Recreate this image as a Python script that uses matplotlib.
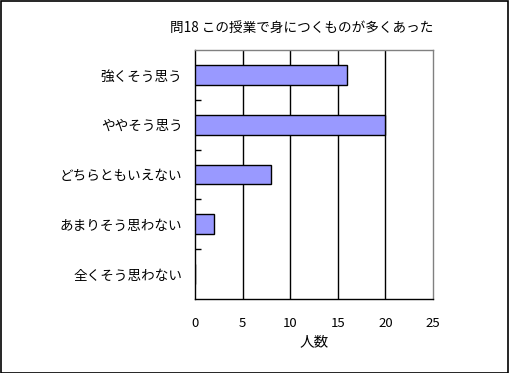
import matplotlib
matplotlib.use("Agg")
import matplotlib.pyplot as plt
from matplotlib.patches import Rectangle

plt.rcParams['font.family'] = ['Noto Sans CJK JP', 'DejaVu Sans']

categories = ["強くそう思う", "ややそう思う", "どちらともいえない", "あまりそう思わない", "全くそう思わない"]
values = [16, 20, 8, 2, 0]
xticks = [0, 5, 10, 15, 20, 25]
title = "問18 この授業で身につくものが多くあった"
xlabel = "人数"

fig = plt.figure(figsize=(5.09, 3.73), dpi=100)
fig.patch.set_facecolor('white')
ax = fig.add_axes([195/509, 1-299/373, (433-195)/509, (299-50)/373])

ypos = list(range(len(categories)))
ax.barh(ypos, values, height=0.4, color='#9999FF', edgecolor='black', linewidth=1, zorder=3)
ax.set_ylim(len(categories)-0.5, -0.5)
ax.set_xlim(0, 25)
ax.set_xticks(xticks)
ax.set_xticklabels([str(t) for t in xticks], fontsize=9.5)
ax.tick_params(axis='x', length=0, pad=13)
ax.set_yticks(ypos)
ax.set_yticklabels(categories, fontsize=9.8)
ax.tick_params(axis='y', which='major', length=0, pad=9)
ax.set_yticks([i + 0.5 for i in range(len(categories)-1)], minor=True)
ax.tick_params(axis='y', which='minor', length=4, direction='in', width=1, color='black')
for x in xticks[1:-1]:
    ax.axvline(x, color='black', lw=1, zorder=1)
ax.spines['left'].set_color('black')
ax.spines['bottom'].set_color('black')
ax.spines['top'].set_color('#808080')
ax.spines['right'].set_color('#808080')
for s in ax.spines.values():
    s.set_linewidth(1)
ax.set_xlabel(xlabel, fontsize=10.5, labelpad=4)

fig.text(302/509, 1-28/373, title, ha='center', va='center', fontsize=9.8)
fig.patches.append(Rectangle((0.5/509, 0.5/373), 1-1.5/509, 1-1.5/373, transform=fig.transFigure,
                             fill=False, edgecolor='black', linewidth=1.2))

fig.savefig("out.png", dpi=100)
